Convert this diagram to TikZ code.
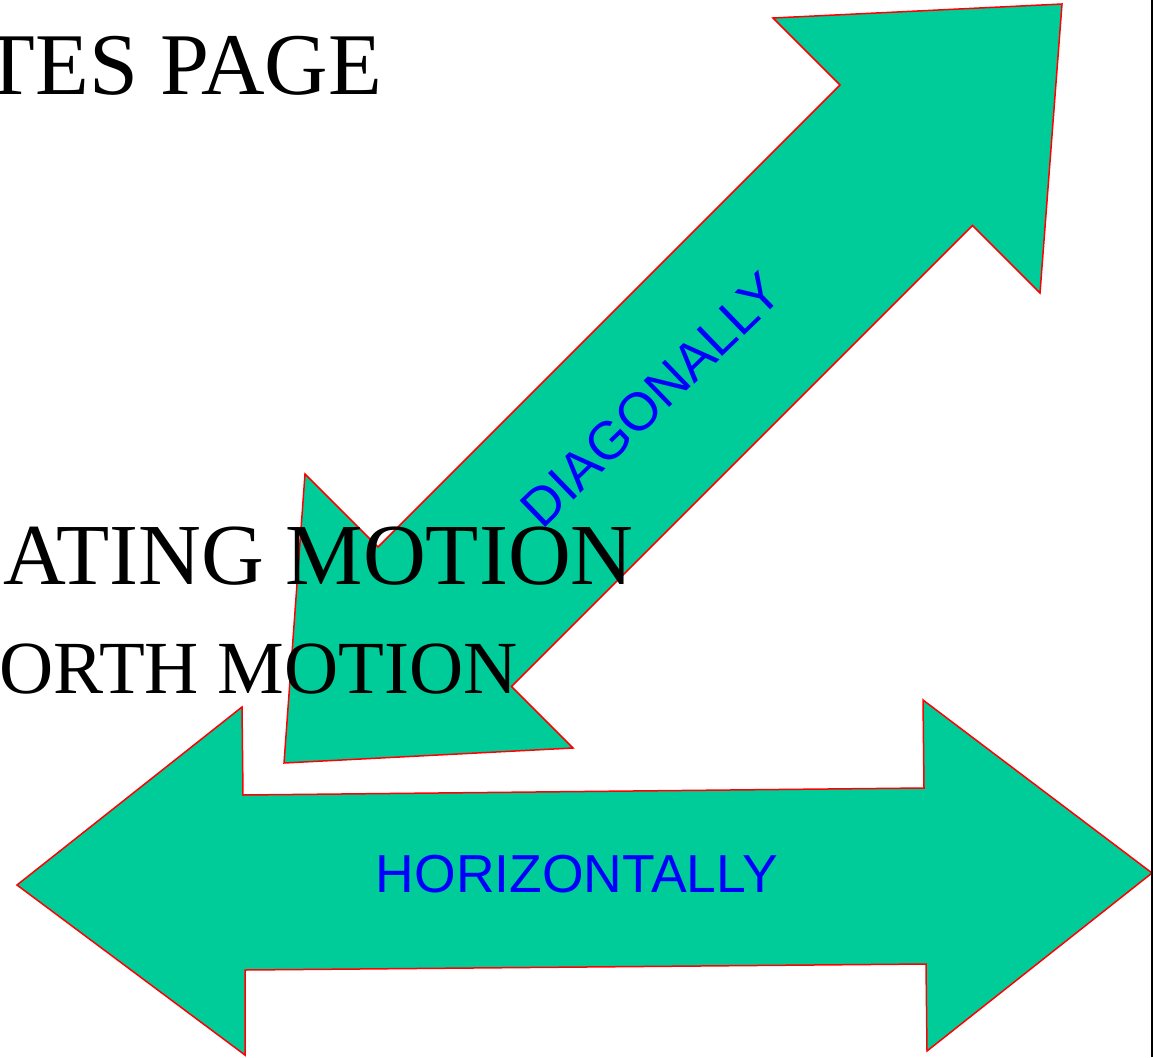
\documentclass[tikz,border=0pt]{standalone}
\usepackage{fontspec}
\setmainfont{Liberation Serif}
\newfontfamily\arialf{Liberation Sans}
\definecolor{arrowgreen}{RGB}{0,204,153}
\definecolor{labelblue}{RGB}{0,0,255}
\begin{document}
\begin{tikzpicture}[x=1pt,y=-1pt,
  arrowshape/.style={fill=arrowgreen, draw=red, line width=1.5pt, line join=miter},
  titletext/.style={inner sep=0pt, anchor=base east, font=\fontsize{88}{104}\selectfont},
  bigtext/.style={inner sep=0pt, anchor=base east, font=\fontsize{87}{104}\selectfont},
  midtext/.style={inner sep=0pt, anchor=base east, font=\fontsize{75}{90}\selectfont},
  arrowlabel/.style={inner sep=0pt, text=labelblue, font=\arialf\fontsize{53.5}{64}\selectfont}]
\useasboundingbox (0,0) rectangle (1153,1057);
\clip (0,0) rectangle (1153,1057);
% horizontal double arrow
\draw[arrowshape] (17,885) -- (242,707) -- (243,795) -- (924,788) -- (923,700)
  -- (1152,873) -- (927,1051) -- (926,964) -- (245,970) -- (245,1055) -- cycle;
% diagonal double arrow
\draw[arrowshape] (1062,4) -- (773,18) -- (840,85) -- (378,547) -- (305,474)
  -- (284,763) -- (573,748) -- (511.5,686.5) -- (972.5,225.5) -- (1040,293) -- cycle;
% right border line
\draw[line width=2pt] (1152,0) -- (1152,1057);
% texts
\node[titletext] (t1) at (382,94) {TES PAGE};
\node[bigtext] (t2) at (634,584) {ATING MOTION};
\node[midtext] (t3) at (518,693) {ORTH MOTION};
\node[arrowlabel] (hl) at (577,874) {HORIZONTALLY};
\node[arrowlabel, rotate=44] (dl) at (651,400) {DIAGONALLY};
\end{tikzpicture}
\end{document}
